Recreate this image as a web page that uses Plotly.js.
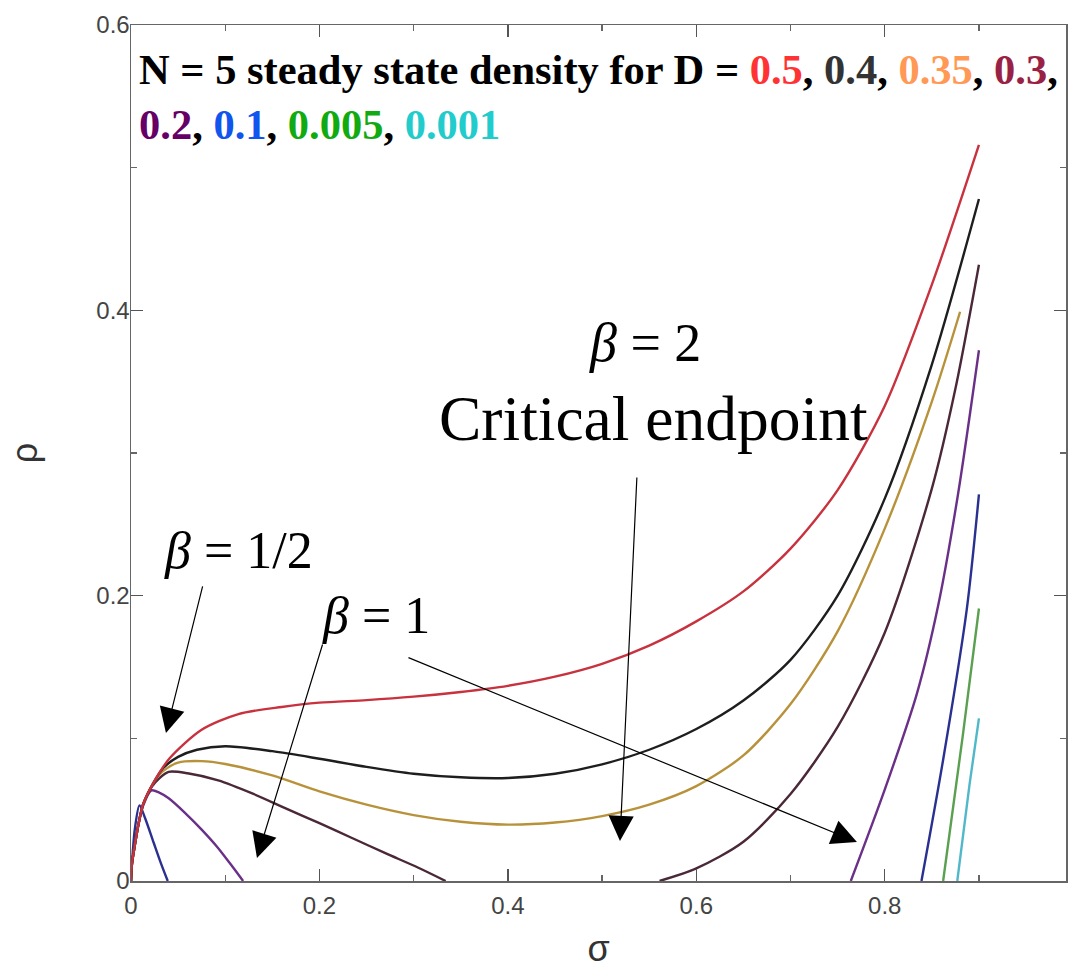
<!DOCTYPE html>
<html>
<head>
<meta charset="utf-8">
<script src="https://cdn.plot.ly/plotly-3.0.1.min.js"></script>
<style>html,body{margin:0;padding:0;background:#fff;overflow:hidden}#chart{width:1069px;height:978px}</style>
</head>
<body>
<div id="chart"></div>
<script>
// D = 0.5
var sig05 = [0, 0.001, 0.004, 0.008, 0.013, 0.024, 0.041, 0.075, 0.114, 0.16, 0.2, 0.25, 0.3, 0.35, 0.4, 0.45, 0.5, 0.55, 0.6, 0.65, 0.7, 0.75, 0.8, 0.85, 0.9];
var rho05 = [0, 0.012, 0.025, 0.040, 0.054, 0.069, 0.086, 0.106, 0.117, 0.122, 0.125, 0.1268, 0.1292, 0.1325, 0.1368, 0.1432, 0.1522, 0.165, 0.182, 0.203, 0.233, 0.274, 0.333, 0.418, 0.516];
// D = 0.4
var sig04 = [0, 0.001, 0.004, 0.008, 0.013, 0.024, 0.034, 0.05, 0.07, 0.1, 0.15, 0.2, 0.25, 0.3, 0.35, 0.4, 0.45, 0.5, 0.55, 0.6, 0.65, 0.7, 0.75, 0.8, 0.85, 0.9];
var rho04 = [0, 0.012, 0.025, 0.040, 0.054, 0.069, 0.079, 0.087, 0.092, 0.0945, 0.091, 0.0857, 0.080, 0.0752, 0.0727, 0.0722, 0.0752, 0.0818, 0.092, 0.1065, 0.1265, 0.155, 0.200, 0.268, 0.362, 0.478];
// D = 0.35
var sig035 = [0, 0.001, 0.004, 0.008, 0.013, 0.024, 0.034, 0.05, 0.075, 0.1, 0.15, 0.2, 0.25, 0.3, 0.35, 0.4, 0.45, 0.5, 0.55, 0.6, 0.65, 0.7, 0.75, 0.8, 0.85, 0.88];
var rho035 = [0, 0.012, 0.025, 0.040, 0.054, 0.069, 0.077, 0.083, 0.084, 0.082, 0.074, 0.0628, 0.0535, 0.0462, 0.0415, 0.0395, 0.041, 0.0455, 0.0535, 0.0665, 0.088, 0.124, 0.175, 0.247, 0.336, 0.399];
// D = 0.3
var sig03 = [0, 0.001, 0.004, 0.008, 0.013, 0.022, 0.03, 0.04, 0.06, 0.0926, 0.13, 0.163, 0.2, 0.234, 0.27, 0.305, 0.334, null, 0.561, 0.6, 0.65, 0.7, 0.75, 0.8, 0.85, 0.875, 0.9];
var rho03 = [0, 0.012, 0.025, 0.040, 0.054, 0.066, 0.072, 0.0765, 0.0755, 0.0705, 0.061, 0.0513, 0.0405, 0.0303, 0.0195, 0.0093, 0, null, 0, 0.0088, 0.0275, 0.061, 0.108, 0.174, 0.275, 0.345, 0.432];
// D = 0.2
var sig02 = [0, 0.001, 0.004, 0.008, 0.013, 0.0216, 0.03, 0.04, 0.057, 0.075, 0.0926, 0.106, 0.119, null, 0.764, 0.8, 0.834, 0.857, 0.878, 0.9];
var rho02 = [0, 0.012, 0.025, 0.040, 0.053, 0.0635, 0.062, 0.058, 0.048, 0.036, 0.023, 0.0115, 0, null, 0, 0.064, 0.131, 0.194, 0.272, 0.372];
// D = 0.1
var sig01 = [0, 0.001, 0.004, 0.009, 0.015, 0.024, 0.032, 0.039, null, 0.839, 0.862, 0.887, 0.9];
var rho01 = [0, 0.012, 0.036, 0.053, 0.044, 0.027, 0.012, 0, null, 0, 0.085, 0.19, 0.271];
// D = 0.005
var sig0005 = [0.862, 0.883, 0.9];
var rho0005 = [0, 0.1026, 0.191];
// D = 0.001
var sig0001 = [0.877, 0.89, 0.9];
var rho0001 = [0, 0.0676, 0.114];

var seriesNames = ['0.5', '0.4', '0.35', '0.3', '0.2', '0.1', '0.005', '0.001'];
var lineColors = ['#c8323e', '#1e1e1e', '#b8923a', '#4a2838', '#6a3088', '#2a3090', '#5aa050', '#50b8c8'];
var labelColors = ['#ff3333', '#333333', '#ff9955', '#992244', '#660066', '#1155ee', '#11aa11', '#22cccc'];
var xs = [sig05, sig04, sig035, sig03, sig02, sig01, sig0005, sig0001];
var ys = [rho05, rho04, rho035, rho03, rho02, rho01, rho0005, rho0001];

var xTicks = [0, 0.2, 0.4, 0.6, 0.8];
var xTickText = ['0', '0.2', '0.4', '0.6', '0.8'];
var yTicks = [0, 0.2, 0.4, 0.6];
var yTickText = ['0', '0.2', '0.4', '0.6'];

var traces = [];
for (var i = xs.length - 1; i >= 0; i--) {
  traces.push({
    x: xs[i], y: ys[i], type: 'scatter', mode: 'lines', name: 'D = ' + seriesNames[i],
    line: {color: lineColors[i], width: 2.4, shape: 'spline', smoothing: 0.8},
    connectgaps: false, hoverinfo: 'skip'
  });
}

function sp(t, c) { return '<span style="color:' + c + '">' + t + '</span>'; }
var titleText = '<b>N = 5 steady state density for D = ' +
  sp(seriesNames[0], labelColors[0]) + ', ' + sp(seriesNames[1], labelColors[1]) + ', ' +
  sp(seriesNames[2], labelColors[2]) + ', ' + sp(seriesNames[3], labelColors[3]) + ',<br>' +
  sp(seriesNames[4], labelColors[4]) + ', ' + sp(seriesNames[5], labelColors[5]) + ', ' +
  sp(seriesNames[6], labelColors[6]) + ', ' + sp(seriesNames[7], labelColors[7]) + '</b>';

var serif = 'Liberation Serif, Times New Roman, serif';
var arrowStyle = {showarrow: true, arrowhead: 2, arrowsize: 4.2, arrowwidth: 1.2, arrowcolor: '#000', axref: 'x', ayref: 'y', text: '', standoff: 0};
function arrow(tx, ty, ax, ay) {
  return Object.assign({x: tx, y: ty, ax: ax, ay: ay, xref: 'x', yref: 'y'}, arrowStyle);
}

var annotations = [
  {xref: 'paper', yref: 'paper', x: 0.006, y: 0.978, xanchor: 'left', yanchor: 'top', align: 'left',
   showarrow: false, text: titleText, font: {family: serif, size: 42.5, color: '#000'}},
  {xref: 'x', yref: 'y', x: 0.1145, y: 0.232, showarrow: false, text: '<i>β</i> = 1/2', font: {family: serif, size: 52, color: '#000'}},
  {xref: 'x', yref: 'y', x: 0.26, y: 0.1864, showarrow: false, text: '<i>β</i> = 1', font: {family: serif, size: 52, color: '#000'}},
  {xref: 'x', yref: 'y', x: 0.5455, y: 0.377, showarrow: false, text: '<i>β</i> = 2', font: {family: serif, size: 54, color: '#000'}},
  {xref: 'x', yref: 'y', x: 0.555, y: 0.3245, showarrow: false, text: 'Critical endpoint', font: {family: serif, size: 63.5, color: '#000'}},
  arrow(0.0371, 0.1037, 0.0764, 0.2075),
  arrow(0.1337, 0.0161, 0.2038, 0.1668),
  arrow(0.7705, 0.0273, 0.2929, 0.157),
  arrow(0.519, 0.028, 0.537, 0.2839)
];

var axisCommon = {
  showline: true, linecolor: '#666', linewidth: 1.5, mirror: 'ticks',
  ticks: 'inside', ticklen: 12, tickwidth: 1.3, tickcolor: '#555',
  showgrid: false, zeroline: false,
  tickfont: {family: 'Liberation Sans, Arial, sans-serif', size: 24, color: '#444'},
  minor: {dtick: 0.1, ticks: 'inside', ticklen: 6, tickwidth: 1.2, tickcolor: '#666', showgrid: false}
};

var layout = {
  width: 1069, height: 978,
  margin: {l: 131, r: 3, t: 25, b: 97},
  paper_bgcolor: '#fff', plot_bgcolor: '#fff',
  showlegend: false,
  xaxis: Object.assign({}, axisCommon, {
    range: [0, 0.9924], tickvals: xTicks, ticktext: xTickText, ticklabelstandoff: 3,
    title: {text: 'σ', font: {family: 'Liberation Sans, Arial, sans-serif', size: 36, color: '#333'}, standoff: 17}
  }),
  yaxis: Object.assign({}, axisCommon, {
    range: [0, 0.6], tickvals: yTicks, ticktext: yTickText, ticklabelstandoff: -5,
    title: {text: 'ρ', font: {family: 'Liberation Sans, Arial, sans-serif', size: 36, color: '#333'}, standoff: 47}
  }),
  annotations: annotations
};

Plotly.newPlot('chart', traces, layout, {displayModeBar: false, staticPlot: true});
</script>
</body>
</html>
